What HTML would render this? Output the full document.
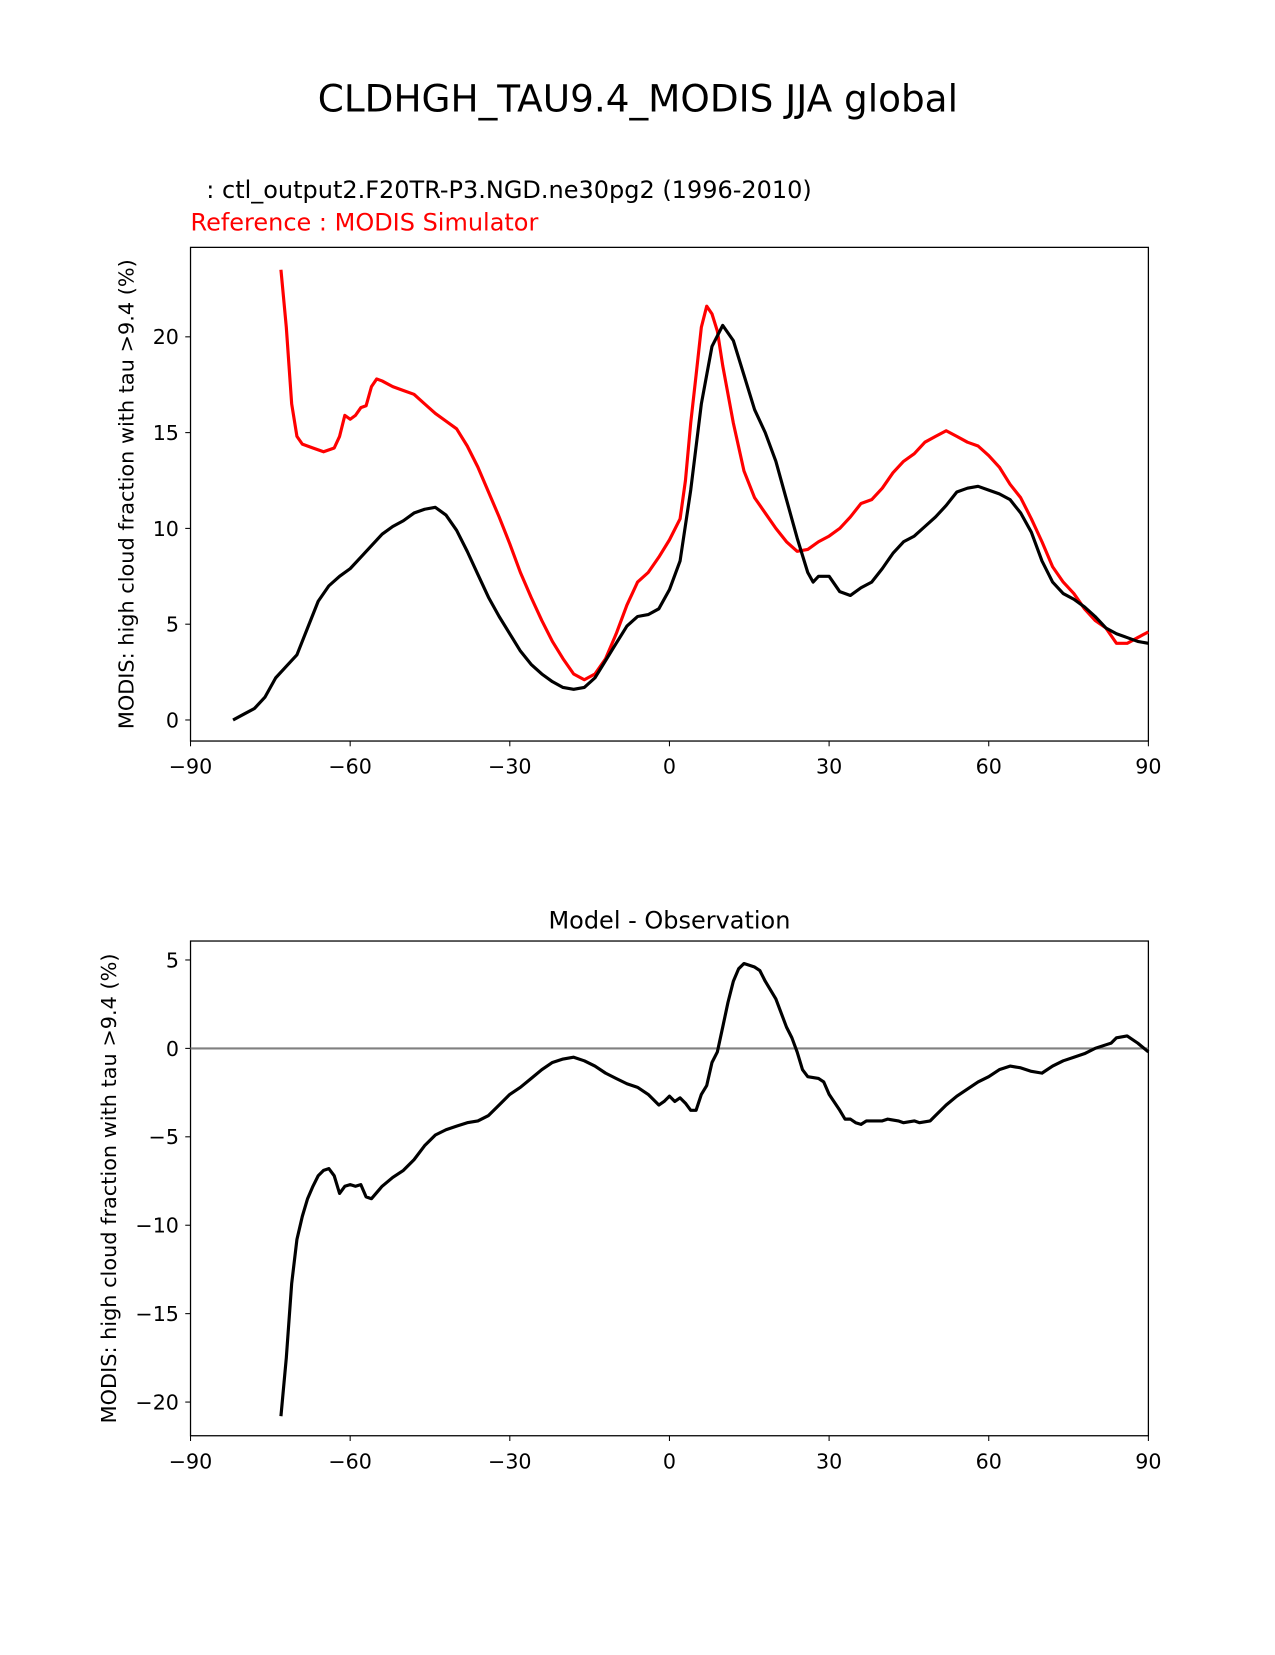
<!DOCTYPE html>
<html><head><meta charset="utf-8"><style>
body{margin:0;background:#fff;}
svg text{font-family:"DejaVu Sans","Liberation Sans",sans-serif;}
</style></head><body>
<svg id="fig" width="1275" height="1650" viewBox="0 0 1275 1650" xmlns="http://www.w3.org/2000/svg">
<rect width="1275" height="1650" fill="#fff"/>
<g transform="scale(1.0526)">
<text x="606" y="106" font-size="35.5" text-anchor="middle">CLDHGH_TAU9.4_MODIS JJA global</text>
<text x="196" y="188" font-size="22.8">: ctl_output2.F20TR-P3.NGD.ne30pg2 (1996-2010)</text>
<text x="181" y="219" font-size="22.8" fill="#ff0000">Reference : MODIS Simulator</text>
<text x="636" y="882" font-size="22.8" text-anchor="middle">Model - Observation</text>
<g id="top"></g>
<g id="bot"></g>
</g>
</svg>
<script>
const modelLat=[-82,-80,-78,-76,-74,-72,-70,-68,-66,-64,-62,-60,-58,-56,-54,-52,-50,-48,-46,-44,-42,-40,-38,-36,-34,-32,-30,-28,-26,-24,-22,-20,-18,-16,-14,-12,-10,-8,-6,-4,-2,0,2,4,6,8,10,12,14,16,18,20,22,24,26,27,28,30,32,34,36,38,40,42,44,46,48,50,52,54,56,58,60,62,64,66,68,70,72,74,76,78,80,82,84,86,88,90];
const modelVal=[0,0.3,0.6,1.2,2.2,2.8,3.4,4.8,6.2,7.0,7.5,7.9,8.5,9.1,9.7,10.1,10.4,10.8,11.0,11.1,10.7,9.9,8.8,7.6,6.4,5.4,4.5,3.6,2.9,2.4,2.0,1.7,1.6,1.7,2.2,3.1,4.0,4.9,5.4,5.5,5.8,6.8,8.3,12,16.5,19.5,20.6,19.8,18,16.2,15.0,13.5,11.5,9.5,7.7,7.2,7.5,7.5,6.7,6.5,6.9,7.2,7.9,8.7,9.3,9.6,10.1,10.6,11.2,11.9,12.1,12.2,12.0,11.8,11.5,10.8,9.8,8.3,7.2,6.6,6.3,5.9,5.4,4.8,4.5,4.3,4.1,4.0];
const refLat=[-73,-72,-71,-70,-69,-67,-65,-63,-62,-61,-60,-59,-58,-57,-56,-55,-54,-52,-50,-48,-46,-44,-42,-40,-38,-36,-34,-32,-30,-28,-26,-24,-22,-20,-18,-16,-14,-12,-10,-8,-6,-4,-2,0,2,3,4,5,6,7,8,9,10,12,14,16,18,20,22,24,26,28,30,32,34,36,38,40,42,44,46,48,50,52,54,56,58,60,62,64,66,68,70,72,74,76,78,80,82,84,86,88,90];
const refVal=[23.5,20.5,16.5,14.8,14.4,14.2,14.0,14.2,14.8,15.9,15.7,15.9,16.3,16.4,17.4,17.8,17.7,17.4,17.2,17.0,16.5,16.0,15.6,15.2,14.3,13.2,11.9,10.6,9.2,7.7,6.4,5.2,4.1,3.2,2.4,2.1,2.4,3.2,4.5,6.0,7.2,7.7,8.5,9.4,10.5,12.5,15.5,18.0,20.5,21.6,21.2,20.3,18.5,15.5,13,11.6,10.8,10.0,9.3,8.8,8.9,9.3,9.6,10.0,10.6,11.3,11.5,12.1,12.9,13.5,13.9,14.5,14.8,15.1,14.8,14.5,14.3,13.8,13.2,12.3,11.6,10.5,9.3,8.0,7.2,6.6,5.8,5.2,4.8,4.0,4.0,4.3,4.6];
const diffLat=[-73,-72,-71,-70,-69,-68,-67,-66,-65,-64,-63,-62,-61,-60,-59,-58,-57,-56,-54,-52,-50,-48,-46,-44,-42,-40,-38,-36,-34,-32,-30,-28,-26,-24,-22,-20,-18,-16,-14,-12,-10,-8,-6,-4,-2,-1,0,1,2,3,4,5,6,7,8,9,10,11,12,13,14,16,17,18,20,22,23,24,25,26,28,29,30,32,33,34,35,36,37,40,41,43,44,46,47,49,50,52,54,56,58,60,62,64,66,68,70,72,74,76,78,80,82,83,84,86,88,90];
const diffVal=[-20.8,-17.5,-13.3,-10.8,-9.5,-8.5,-7.8,-7.2,-6.9,-6.8,-7.2,-8.2,-7.8,-7.7,-7.8,-7.7,-8.4,-8.5,-7.8,-7.3,-6.9,-6.3,-5.5,-4.9,-4.6,-4.4,-4.2,-4.1,-3.8,-3.2,-2.6,-2.2,-1.7,-1.2,-0.8,-0.6,-0.5,-0.7,-1.0,-1.4,-1.7,-2.0,-2.2,-2.6,-3.2,-3.0,-2.7,-3.0,-2.8,-3.1,-3.5,-3.5,-2.6,-2.1,-0.8,-0.2,1.2,2.6,3.8,4.5,4.8,4.6,4.4,3.8,2.8,1.2,0.6,-0.2,-1.2,-1.6,-1.7,-1.9,-2.6,-3.5,-4.0,-4.0,-4.2,-4.3,-4.1,-4.1,-4.0,-4.1,-4.2,-4.1,-4.2,-4.1,-3.8,-3.2,-2.7,-2.3,-1.9,-1.6,-1.2,-1.0,-1.1,-1.3,-1.4,-1.0,-0.7,-0.5,-0.3,0.0,0.2,0.3,0.6,0.7,0.3,-0.2,-0.5];
const xTicks=[-90,-60,-30,0,30,60,90];
const xTickLabels=["\u221290","\u221260","\u221230","0","30","60","90"];
const topYTicks=[0,5,10,15,20];
const topYTickLabels=["0","5","10","15","20"];
const botYTicks=[5,0,-5,-10,-15,-20];
const botYTickLabels=["5","0","\u22125","\u221210","\u221215","\u221220"];
const NS="http://www.w3.org/2000/svg";
function mk(p,t,a){const e=document.createElementNS(NS,t);for(const k in a)e.setAttribute(k,a[k]);p.appendChild(e);return e;}
function panel(g,top,bot,y0px,pxPerUnit,yT,yTL,name,titleX){
  const L=181,R=1091;
  const X=v=>L+(v+90)*(R-L)/180;
  const Y=v=>y0px-v*pxPerUnit;
  const fr=mk(g,'rect',{x:L,y:top,width:R-L,height:bot-top,fill:'none',stroke:'#000','stroke-width':1.2});
  
  
  xTicks.forEach((t,i)=>{
    const ln=mk(g,'line',{x1:X(t),x2:X(t),y1:bot,y2:bot+5,stroke:'#000'});
    
    
    const tx=mk(g,'text',{x:X(t),y:bot+31,'font-size':19.6,'text-anchor':'middle'});
    tx.textContent=xTickLabels[i];
    
    
  });
  yT.forEach((t,i)=>{
    const ln=mk(g,'line',{x1:L-5,x2:L,y1:Y(t),y2:Y(t),stroke:'#000'});
    
    
    const tx=mk(g,'text',{x:L-11,y:Y(t)+7,'font-size':19.6,'text-anchor':'end'});
    tx.textContent=yTL[i];
    
    
  });
  const cy=(top+bot)/2;
  const yl=mk(g,'text',{x:titleX,y:cy,'font-size':19.8,'text-anchor':'middle',transform:`rotate(-90 ${titleX} ${cy})`});
  yl.textContent='MODIS: high cloud fraction with tau >9.4 (%)';
  
  
  return {X,Y};
}
function line(g,ax,lat,val,color,name){
  const d=lat.map((v,i)=>(i?'L':'M')+ax.X(v).toFixed(1)+','+ax.Y(val[i]).toFixed(1)).join('');
  const p=mk(g,'path',{d,fill:'none',stroke:color,'stroke-width':3,'stroke-linejoin':'round'});
  
  
}
const gt=document.getElementById('top');
const at=panel(gt,235,704,684,18.2,topYTicks,topYTickLabels,'top',127);
line(gt,at,refLat,refVal,'#ff0000','reference-line');
line(gt,at,modelLat,modelVal,'#000','model-line');
const gb=document.getElementById('bot');
const ab=panel(gb,894,1364,996,16.8,botYTicks,botYTickLabels,'bottom',110);
const zl=mk(gb,'line',{x1:181,x2:1091,y1:ab.Y(0),y2:ab.Y(0),stroke:'#808080','stroke-width':2});


line(gb,ab,diffLat,diffVal,'#000','difference-line');
</script>
</body></html>
